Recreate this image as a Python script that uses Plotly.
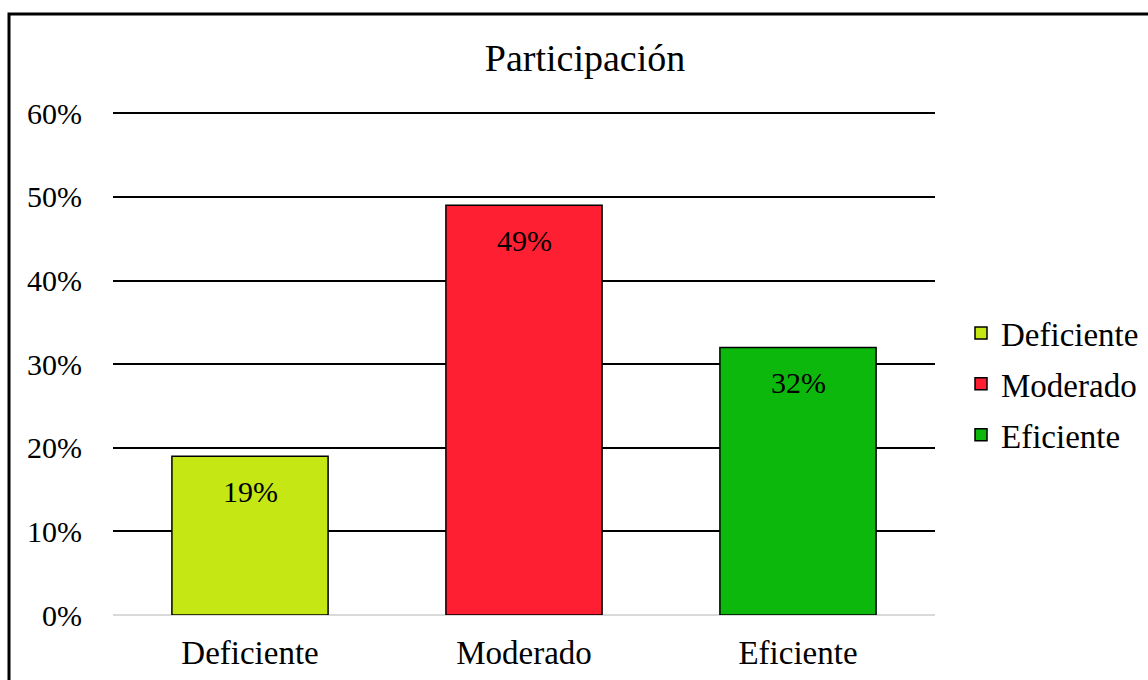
import plotly.graph_objects as go

categories = ["Deficiente", "Moderado", "Eficiente"]
values = [0.19, 0.49, 0.32]
colors = ["#c5e815", "#ff1f33", "#0db80d"]
labels = ["19%", "49%", "32%"]
title_text = "Participación"

FONT = "Liberation Serif, Times New Roman, serif"

W, H = 1148, 680
L, R, T, B = 113, 1148 - 935, 105, 680 - 615
PW, PH = W - L - R, H - T - B
YMAX = 0.61

fig = go.Figure()
for cat, val, col in zip(categories, values, colors):
    fig.add_trace(go.Bar(
        x=[cat], y=[val], name=cat, legendgroup=cat,
        marker=dict(color=col, line=dict(color="black", width=1.5)),
        width=0.57,
    ))

for cat, val, lab in zip(categories, values, labels):
    fig.add_annotation(x=cat, y=val, text=lab, showarrow=False,
                       yshift=-35, font=dict(family=FONT, size=30, color="black"))

fig.update_layout(
    width=W, height=H,
    margin=dict(l=L, r=R, t=T, b=B, autoexpand=False),
    paper_bgcolor="white", plot_bgcolor="white",
    font=dict(family=FONT, size=30, color="black"),
    title=dict(text=title_text, x=585/W, xref="container", xanchor="center",
               y=1-58/H, yref="container", yanchor="middle",
               font=dict(family=FONT, size=38, color="black")),
    showlegend=True,
    legend=dict(x=961/W, y=1-384/H, xref="container", yref="container",
                xanchor="left", yanchor="middle",
                traceorder="grouped", tracegroupgap=5,
                font=dict(family=FONT, size=33, color="black")),
    barmode="group",
)

fig.update_xaxes(showgrid=False, showline=False, ticks="",
                 tickfont=dict(family=FONT, size=33), ticklabelstandoff=15)
fig.update_yaxes(range=[0, YMAX], tickvals=[0, 0.1, 0.2, 0.3, 0.4, 0.5, 0.6],
                 tickformat=".0%",
                 showgrid=True, gridcolor="black", gridwidth=1.5,
                 zeroline=True, zerolinecolor="#d9d9d9", zerolinewidth=2,
                 showline=False, ticks="", ticklabelstandoff=30,
                 tickfont=dict(family=FONT, size=30))

# outer chart border (only top and left edges visible in the frame)
fig.add_shape(type="rect", xref="paper", yref="paper",
              x0=(9-L)/PW, x1=1.5, y0=-0.5, y1=(H-B-14)/PH,
              line=dict(color="black", width=3), fillcolor="rgba(0,0,0,0)", layer="above")

fig.write_html("out.html", config={"displayModeBar": False},
               post_script="document.body.style.margin='0';document.body.style.overflow='hidden';")
